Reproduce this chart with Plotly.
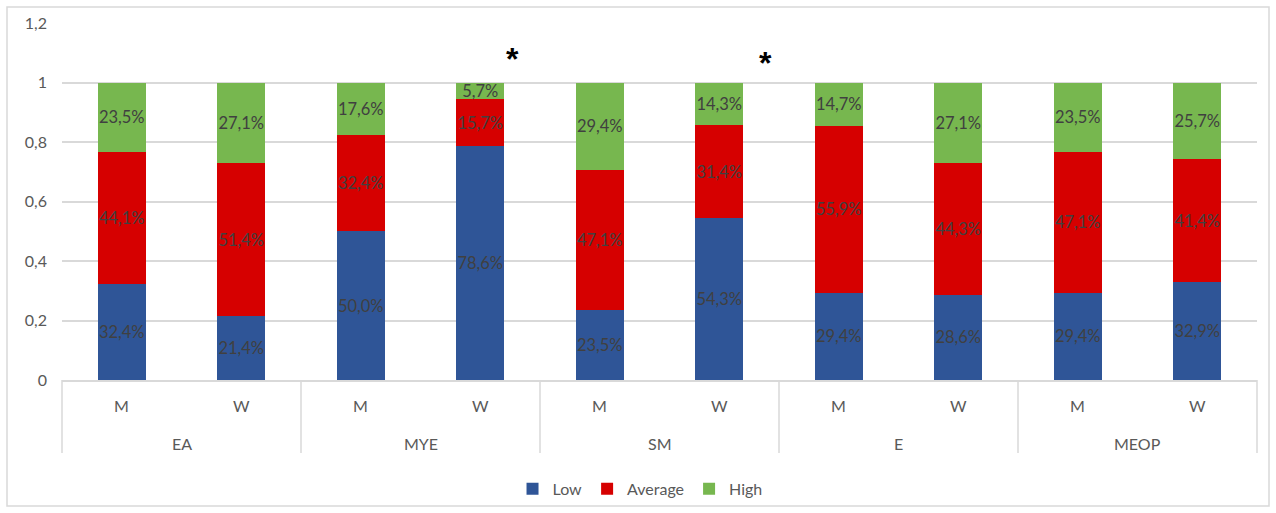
import plotly.graph_objects as go

groups = ["EA", "MYE", "SM", "E", "MEOP"]
subcats = ["M", "W"]
low = [0.324, 0.214, 0.500, 0.786, 0.235, 0.543, 0.294, 0.286, 0.294, 0.329]
average = [0.441, 0.514, 0.324, 0.157, 0.471, 0.314, 0.559, 0.443, 0.471, 0.414]
high = [0.235, 0.271, 0.176, 0.057, 0.294, 0.143, 0.147, 0.271, 0.235, 0.257]
y_ticks = [0, 0.2, 0.4, 0.6, 0.8, 1, 1.2]

n = len(groups) * len(subcats)
xpos = list(range(n))

FONT = "Lato, 'Open Sans', sans-serif"
GRAY = "#595959"
LABEL = "#404040"

fig = go.Figure()
series = [("Low", low, "#2F5597"), ("Average", average, "#D60000"), ("High", high, "#77B74F")]
for name, vals, col in series:
    fig.add_trace(go.Bar(
        x=xpos, y=vals, name=name, width=0.4,
        marker=dict(color=col, line=dict(width=0)),
        texttemplate="%{y:.1%}", textposition="inside", insidetextanchor="middle",
        constraintext="none", textangle=0,
        textfont=dict(family=FONT, size=16.5, color=LABEL),
        hoverinfo="skip",
    ))

annotations = []
shapes = []
for i in range(n):
    annotations.append(dict(
        x=(i + 0.5) / n, y=-0.072, xref="paper", yref="paper",
        text=subcats[i % 2], showarrow=False,
        font=dict(family=FONT, size=16, color=GRAY), xanchor="center", yanchor="middle"))
for g, name in enumerate(groups):
    annotations.append(dict(
        x=(g + 0.5) / len(groups), y=-0.178, xref="paper", yref="paper",
        text=name, showarrow=False,
        font=dict(family=FONT, size=16, color=GRAY), xanchor="center", yanchor="middle"))
for g in range(len(groups) + 1):
    xp = g / len(groups)
    shapes.append(dict(type="line", xref="paper", yref="paper", x0=xp, x1=xp, y0=0, y1=-0.2045,
                       line=dict(color="#D9D9D9", width=1.5)))

for xp, yv in [(0.3774, 1.078), (0.5883, 1.065)]:
    annotations.append(dict(
        x=xp, y=yv, xref="paper", yref="y", text="<b>*</b>", showarrow=False,
        font=dict(family="Liberation Sans, Arial", size=32, color="#000000"),
        xanchor="center", yanchor="middle"))

shapes.append(dict(type="rect", xref="paper", yref="paper",
                   x0=(7 - 62) / 1195, x1=(1269 - 62) / 1195,
                   y0=(380 - 506) / 357, y1=(380 - 7) / 357,
                   line=dict(color="#D9D9D9", width=1.5), fillcolor="rgba(0,0,0,0)", layer="above"))

fig.update_layout(
    barmode="stack",
    width=1276, height=513,
    margin=dict(l=62, r=19, t=23, b=133, autoexpand=False),
    plot_bgcolor="white", paper_bgcolor="white",
    separators=",.",
    font=dict(family=FONT, color=GRAY),
    xaxis=dict(range=[-0.5, n - 0.5], showticklabels=False, showgrid=False, zeroline=False,
               showline=True, linecolor="#D9D9D9", linewidth=1.5, ticks="", automargin=False),
    yaxis=dict(range=[0, 1.2], tickvals=y_ticks, showgrid=True, gridcolor="#D9D9D9", gridwidth=1.5,
               zeroline=False, showline=False, ticks="", ticklabelstandoff=14, automargin=False,
               tickfont=dict(family=FONT, size=16, color=GRAY)),
    legend=dict(orientation="h", x=0.4837, y=-0.305, xanchor="center", yanchor="middle",
                traceorder="normal", font=dict(family=FONT, size=16, color=GRAY),
                itemwidth=30, bgcolor="rgba(0,0,0,0)"),
    showlegend=True,
    annotations=annotations,
    shapes=shapes,
)

fig.write_html("out.html", config={"displayModeBar": False},
               post_script="document.body.style.margin='0';document.body.style.padding='0';")
